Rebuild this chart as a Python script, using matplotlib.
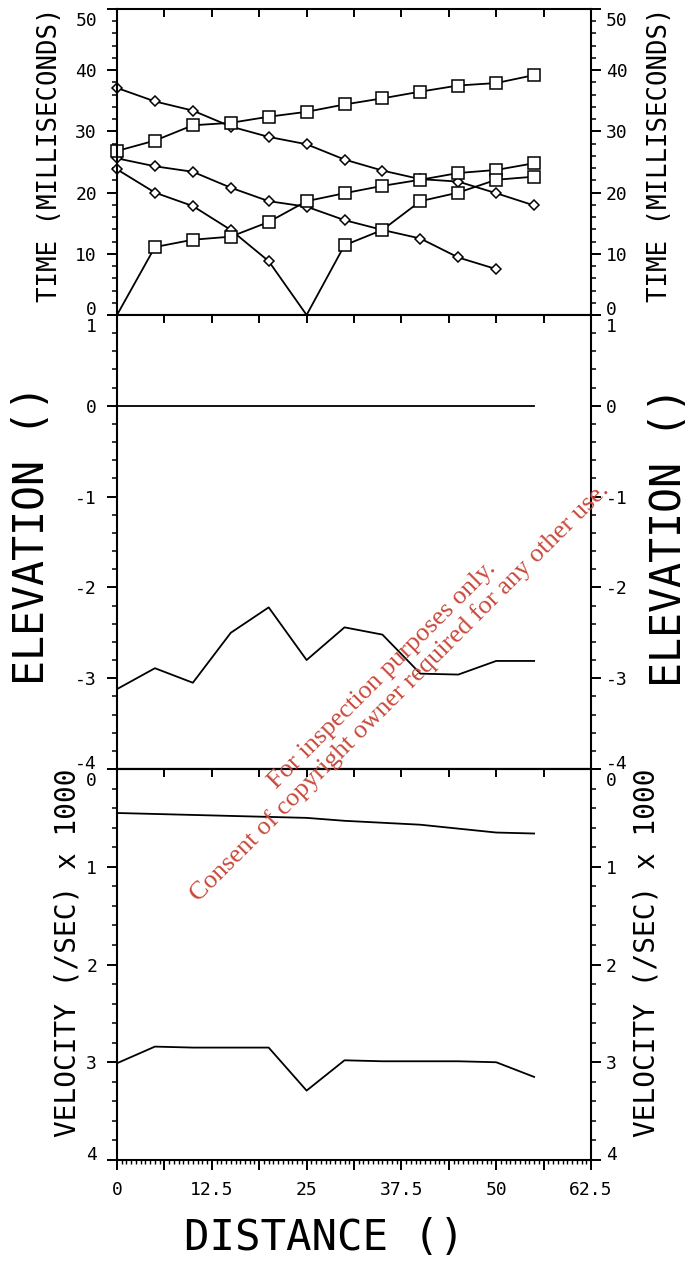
import matplotlib
matplotlib.use("Agg")
import matplotlib.pyplot as plt
import matplotlib.transforms as mtrans
from matplotlib.ticker import MultipleLocator, FuncFormatter, FixedLocator

plt.rcParams['font.family'] = ['DejaVu Sans Mono', 'DejaVu Sans']
plt.rcParams['axes.unicode_minus'] = False

# ---------------- data ----------------
distance = [0, 5, 10, 15, 20, 25, 30, 35, 40, 45, 50, 55]
dist_d2 = [0, 5, 10, 15, 20, 25, 30, 35, 40, 45, 50]
dist_d3 = [0, 5, 10, 15, 20, 25]
dist_s3 = [25, 30, 35, 40, 45, 50, 55]

time_d1 = [37.1, 34.9, 33.4, 30.8, 29.1, 27.9, 25.4, 23.6, 22.2, 21.8, 19.9, 17.9]
time_d2 = [25.6, 24.3, 23.4, 20.8, 18.6, 17.7, 15.5, 13.9, 12.5, 9.4, 7.5]
time_d3 = [23.8, 20.0, 17.8, 13.9, 8.8, 0.0]
time_s1 = [26.8, 28.5, 31.0, 31.4, 32.4, 33.2, 34.4, 35.4, 36.5, 37.5, 37.9, 39.2]
time_s2 = [0.0, 11.1, 12.3, 12.8, 15.2, 18.6, 19.9, 21.1, 22.1, 23.2, 23.7, 24.8]
time_s3 = [0.0, 11.4, 13.9, 18.6, 20.0, 22.1, 22.6]

elev_surface = [0, 0, 0, 0, 0, 0, 0, 0, 0, 0, 0, 0]
elev_layer = [-3.12, -2.89, -3.05, -2.50, -2.22, -2.80, -2.44, -2.52, -2.95, -2.96, -2.81, -2.81]

vel_layer1 = [0.45, 0.46, 0.47, 0.48, 0.49, 0.50, 0.53, 0.55, 0.57, 0.61, 0.65, 0.66]
vel_layer2 = [3.01, 2.84, 2.85, 2.85, 2.85, 3.29, 2.98, 2.99, 2.99, 2.99, 3.00, 3.15]

time_ticks = [0, 10, 20, 30, 40, 50]
elev_ticks = [-4, -3, -2, -1, 0, 1]
vel_ticks = [0, 1, 2, 3, 4]
x_major = [0, 6.25, 12.5, 18.75, 25, 31.25, 37.5, 43.75, 50, 56.25, 62.5]
x_labels = ['0', '', '12.5', '', '25', '', '37.5', '', '50', '', '62.5']

# ---------------- figure ----------------
W, H = 692, 1261
fig = plt.figure(figsize=(W / 100, H / 100), dpi=100)
L, R = 117 / W, 591 / W

def box(top_px, bot_px):
    return [L, 1 - bot_px / H, R - L, (bot_px - top_px) / H]

ax1 = fig.add_axes(box(9, 315))
ax2 = fig.add_axes(box(315, 769))
ax3 = fig.add_axes(box(769, 1160))

LW = 1.3
SPW = 1.5
TICKFS = 13

for ax in (ax1, ax2, ax3):
    ax.set_xlim(0, 62.5)
    for s in ax.spines.values():
        s.set_linewidth(SPW)
    ax.yaxis.set_ticks_position('both')
    ax.tick_params(axis='y', which='major', direction='out', length=7, width=1.4,
                   left=True, right=True, labelleft=False, labelright=False)
    ax.tick_params(axis='y', which='minor', direction='out', length=3.5, width=1.1,
                   left=True, right=True)

# top and middle: x ticks only on top, inward
for ax in (ax1, ax2):
    ax.xaxis.set_major_locator(FixedLocator(x_major))
    ax.xaxis.set_ticks_position('top')
    ax.tick_params(axis='x', which='major', direction='in', length=6, width=1.4,
                   labeltop=False, labelbottom=False, top=True, bottom=False)

# bottom panel: bottom ticks outward with labels, top ticks inward
ax3.set_xticks(x_major, x_labels)
ax3.xaxis.set_minor_locator(MultipleLocator(0.625))
ax3.tick_params(axis='x', which='major', direction='out', length=7, width=1.4,
                labelsize=TICKFS, pad=8, top=False)
ax3.tick_params(axis='x', which='minor', direction='out', length=3, width=1.0, top=False)
sec = ax3.secondary_xaxis('top')
sec.xaxis.set_major_locator(FixedLocator(x_major))
sec.tick_params(axis='x', direction='in', length=6, width=1.4, labeltop=False)
sec.spines['top'].set_linewidth(SPW)

# ---- top panel: travel times ----
line_kw = dict(color='black', lw=LW, mfc='white', mec='black', mew=1.1, clip_on=False)
ax1.plot(distance, time_d1, marker='D', ms=5.2, **line_kw)
ax1.plot(dist_d2, time_d2, marker='D', ms=5.2, **line_kw)
ax1.plot(dist_d3, time_d3, marker='D', ms=5.2,
         markevery=[i for i, v in enumerate(time_d3) if v > 0], **line_kw)
ax1.plot(distance, time_s1, marker='s', ms=8.5, **line_kw)
ax1.plot(distance, time_s2, marker='s', ms=8.5,
         markevery=[i for i, v in enumerate(time_s2) if v > 0], **line_kw)
ax1.plot(dist_s3, time_s3, marker='s', ms=8.5,
         markevery=[i for i, v in enumerate(time_s3) if v > 0], **line_kw)
ax1.set_ylim(0, 50)
ax1.yaxis.set_major_locator(FixedLocator(time_ticks))
ax1.yaxis.set_minor_locator(MultipleLocator(2))

# ---- middle panel: elevation ----
ax2.plot(distance, elev_surface, color='black', lw=LW)
ax2.plot(distance, elev_layer, color='black', lw=LW)
ax2.set_ylim(-4, 1)
ax2.yaxis.set_major_locator(FixedLocator(elev_ticks))
ax2.yaxis.set_minor_locator(MultipleLocator(0.2))

# ---- bottom panel: velocity ----
ax3.plot(distance, vel_layer1, color='black', lw=LW)
ax3.plot(distance, vel_layer2, color='black', lw=LW)
ax3.set_ylim(4, 0)
ax3.yaxis.set_major_locator(FixedLocator(vel_ticks))
ax3.yaxis.set_minor_locator(MultipleLocator(0.2))

# ---- y tick labels (end labels pushed inside the panel) ----
XL = (97 - 117) / 474
XR = (606 - 117) / 474

def ylabels(ax, ticks, top_val, bot_val):
    tr = mtrans.blended_transform_factory(ax.transAxes, ax.transData)
    for v in ticks:
        if v == top_val:
            va, dy = 'top', -2.5
        elif v == bot_val:
            va, dy = 'baseline', 0
        else:
            va, dy = 'center_baseline', 0
        for xa, ha in ((XL, 'right'), (XR, 'left')):
            ax.annotate('%g' % v, xy=(xa, v), xycoords=tr, xytext=(0, dy),
                        textcoords='offset points', ha=ha, va=va,
                        fontsize=TICKFS, annotation_clip=False)

ylabels(ax1, time_ticks, 50, 0)
ylabels(ax2, elev_ticks, 1, -4)
ylabels(ax3, vel_ticks, 0, 4)

# ---- axis titles ----
def ftxt(xp, yp, s, size, rot=90):
    fig.text(xp / W, 1 - yp / H, s, fontsize=size, rotation=rot,
             ha='center', va='center')

ftxt(50, 155, 'TIME (MILLISECONDS)', 18.5)
ftxt(660, 155, 'TIME (MILLISECONDS)', 18.5)
ftxt(32, 535, 'ELEVATION ()', 30)
ftxt(669, 537, 'ELEVATION ()', 30)
ftxt(68, 953, 'VELOCITY (/SEC) x 1000', 20)
ftxt(647, 953, 'VELOCITY (/SEC) x 1000', 20)
ftxt(324, 1238, 'DISTANCE ()', 30.5, rot=0)

# ---- watermark ----
fig.text(391 / W, 1 - 684 / H,
         'For inspection purposes only.\nConsent of copyright owner required for any other use.',
         family=['Liberation Serif', 'DejaVu Serif'], fontsize=19, color='#c9493b',
         rotation=45, rotation_mode='anchor', ha='center', va='center',
         multialignment='center', linespacing=1.1)

fig.savefig('out.png', dpi=100)
